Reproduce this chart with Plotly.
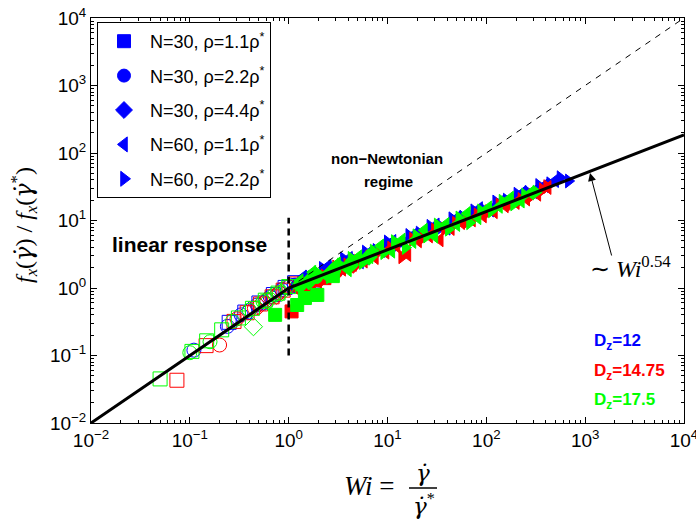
import plotly.graph_objects as go

# ---------------- data ----------------
tick_vals = [1e-2, 1e-1, 1e0, 1e1, 1e2, 1e3, 1e4]
tick_text = ["10<sup>−2</sup>", "10<sup>−1</sup>", "10<sup>0</sup>", "10<sup>1</sup>",
             "10<sup>2</sup>", "10<sup>3</sup>", "10<sup>4</sup>"]

fit_x = [0.01, 1.0, 1e4]
fit_y = [0.01, 1.0, 185.0]
lin_x = [1.0, 1e4]
lin_y = [1.0, 1e4]
vline_x = [1.0, 1.0]
vline_y = [0.1, 11.0]

# Dz = 12 (blue)
b_sq_open_x = [0.25, 0.36, 0.5, 0.7, 0.92, 1.15]
b_sq_open_y = [0.31, 0.44, 0.6, 0.8, 1.02, 1.2]
b_sq_fill_x = [1.3, 1.85, 2.6]
b_sq_fill_y = [1.12, 0.8, 1.6]
b_ci_open_x = [0.11, 0.24, 0.33, 0.48, 0.65, 0.85, 1.05]
b_ci_open_y = [0.12, 0.27, 0.4, 0.56, 0.74, 0.95, 1.1]
b_ci_fill_x = [1.2, 1.7, 2.4, 3.5]
b_ci_fill_y = [1.05, 0.82, 1.55, 2.0]
b_di_open_x = [0.4, 0.6, 0.8]
b_di_open_y = [0.46, 0.66, 0.86]
b_di_fill_x = [1.5, 2.5, 4.0, 6.0]
b_di_fill_y = [1.2, 1.65, 2.2, 2.8]
b_tl_x = [1.4, 1.9, 2.5, 3.2, 4.1, 5.3, 6.8, 8.8, 11.3, 14.5, 18.7, 24, 31, 40, 51, 66, 85,
          110, 140, 180, 235, 300, 390, 500]
b_tl_y = [1.45, 1.45, 2.1, 1.95, 2.75, 2.44, 3.5, 3.6, 4.9, 4.55, 6.2, 6.6, 8.6, 7.69,
          11.0, 11.3, 15.0, 14.3, 18.8, 20.0, 26.0, 26.7, 33.0, 39.0]
b_tr_x = [1.6, 2.2, 2.8, 3.6, 4.6, 6.0, 7.7, 10, 12.8, 16.5, 21, 27, 35, 45, 58, 75, 96, 125,
          160, 205, 265, 340, 440, 560, 680]
b_tr_y = [1.45, 1.95, 2.0, 2.7, 2.62, 3.4, 3.6, 4.8, 4.45, 6.0, 6.5, 8.2, 8.0, 10.6,
          11.2, 13.9, 14.0, 18.8, 20.0, 24.5, 26.0, 33.0, 35.0, 43.0, 38.5]

# Dz = 14.75 (red)
r_sq_open_x = [0.074, 0.146, 0.28, 0.38, 0.52, 0.68, 0.88, 1.2]
r_sq_open_y = [0.043, 0.14, 0.32, 0.43, 0.58, 0.74, 0.93, 1.15]
r_sq_fill_x = [1.07, 1.6, 2.3]
r_sq_fill_y = [0.45, 1.1, 1.4]
r_ci_open_x = [0.2, 0.3, 0.45, 0.6, 0.8, 1.0]
r_ci_open_y = [0.143, 0.35, 0.5, 0.66, 0.85, 1.05]
r_ci_fill_x = [1.3, 2.0, 3.0]
r_ci_fill_y = [1.0, 1.3, 1.7]
r_di_open_x = [0.5, 0.75]
r_di_open_y = [0.54, 0.78]
r_di_fill_x = [1.4, 2.6, 4.5]
r_di_fill_y = [1.1, 1.6, 2.2]
r_tl_x = [1.5, 2.0, 2.7, 3.5, 4.5, 5.8, 7.5, 9.6, 12.4, 16, 20.5, 26.5, 34, 44, 56, 72, 93,
          120, 155, 200, 255, 330, 420]
r_tl_y = [1.13, 1.25, 1.76, 1.9, 2.23, 2.5, 2.82, 3.4, 4.17, 3.13, 5.0, 5.9, 5.17, 7.6,
          9.32, 10.2, 11.7, 13.5, 16.5, 18.5, 20.8, 24.5, 30.8]
r_tr_x = [1.7, 2.3, 3.0, 3.9, 5.0, 6.5, 8.3, 10.8, 14, 18, 23, 30, 38, 49, 63, 81, 105, 135,
          175, 225, 290, 370, 410]
r_tr_y = [1.42, 1.5, 2.05, 2.2, 2.49, 2.9, 3.49, 3.9, 2.9, 5.3, 5.6, 7.22, 7.5, 9.08,
          9.5, 12.1, 13.5, 17.0, 17.2, 20.5, 23.5, 28.6, 31.8]

# Dz = 17.5 (green)
g_sq_open_x = [0.05, 0.105, 0.148, 0.21, 0.31, 0.43, 0.58, 0.78, 1.0]
g_sq_open_y = [0.045, 0.115, 0.165, 0.24, 0.36, 0.5, 0.66, 0.84, 1.05]
g_sq_fill_x = [0.73, 1.22, 1.46, 1.95, 2.8]
g_sq_fill_y = [0.4, 0.56, 0.71, 0.79, 1.5]
g_ci_open_x = [0.1, 0.16, 0.27, 0.4, 0.55, 0.72, 0.95]
g_ci_open_y = [0.11, 0.16, 0.32, 0.47, 0.63, 0.8, 1.02]
g_ci_fill_x = [1.3, 1.9, 2.9, 4.3]
g_ci_fill_y = [1.1, 1.45, 1.85, 2.3]
g_di_open_x = [0.44, 0.62, 0.85]
g_di_open_y = [0.267, 0.64, 0.86]
g_di_fill_x = [1.6, 2.7, 4.2, 6.5]
g_di_fill_y = [1.25, 1.7, 2.2, 2.9]
g_tl_x = [1.3, 1.75, 2.35, 3.1, 4.0, 5.1, 6.6, 8.5, 11, 14, 18, 23.5, 30, 39, 50, 64, 82, 105,
          135, 175, 225, 280]
g_tl_y = [1.28, 1.71, 1.54, 2.28, 1.86, 2.90, 2.91, 4.2, 3.51, 5.13, 4.89, 7.19, 5.85, 8.77,
          8.72, 12.7, 11.0, 15.4, 16.2, 21.5, 19.4, 25.6]
g_tr_x = [1.45, 1.95, 2.6, 3.35, 4.3, 5.6, 7.2, 9.2, 11.8, 15.2, 19.5, 25, 32, 41.5, 53, 68, 88,
          113, 145, 190, 245, 320]
g_tr_y = [1.17, 1.68, 1.46, 2.18, 2.75, 2.39, 3.52, 3.34, 4.87, 3.98, 5.93, 5.89, 8.56, 7.43,
          10.9, 9.27, 13.9, 13.9, 19.3, 17.6, 23.8, 26.3]

legend_labels = ["N=30, ρ=1.1ρ<sup>*</sup>", "N=30, ρ=2.2ρ<sup>*</sup>", "N=30, ρ=4.4ρ<sup>*</sup>",
                 "N=60, ρ=1.1ρ<sup>*</sup>", "N=60, ρ=2.2ρ<sup>*</sup>"]
legend_symbols = ["square", "circle", "diamond", "triangle-left", "triangle-right"]
dz_labels = ["D<sub>z</sub>=12", "D<sub>z</sub>=14.75", "D<sub>z</sub>=17.5"]

BLUE, RED, GREEN = "#0000ff", "#ff0000", "#00ff00"

# ---------------- layout helpers ----------------
W, H = 696, 521
L, R, T, B = 91, 12, 18, 98
PW, PH = W - L - R, H - T - B


def pxx(x):
    return (x - L) / PW


def pxy(y):
    return 1 - (y - T) / PH


fig = go.Figure()

groups = [
    (BLUE, [(b_sq_open_x, b_sq_open_y, "square-open"), (b_ci_open_x, b_ci_open_y, "circle-open"),
            (b_di_open_x, b_di_open_y, "diamond-open"), (b_sq_fill_x, b_sq_fill_y, "square"),
            (b_ci_fill_x, b_ci_fill_y, "circle"), (b_di_fill_x, b_di_fill_y, "diamond"),
            (b_tl_x, b_tl_y, "triangle-left"), (b_tr_x, b_tr_y, "triangle-right")]),
    (RED, [(r_sq_open_x, r_sq_open_y, "square-open"), (r_ci_open_x, r_ci_open_y, "circle-open"),
           (r_di_open_x, r_di_open_y, "diamond-open"), (r_sq_fill_x, r_sq_fill_y, "square"),
           (r_ci_fill_x, r_ci_fill_y, "circle"), (r_di_fill_x, r_di_fill_y, "diamond"),
           (r_tl_x, r_tl_y, "triangle-left"), (r_tr_x, r_tr_y, "triangle-right")]),
    (GREEN, [(g_sq_open_x, g_sq_open_y, "square-open"), (g_ci_open_x, g_ci_open_y, "circle-open"),
             (g_di_open_x, g_di_open_y, "diamond-open"), (g_sq_fill_x, g_sq_fill_y, "square"),
             (g_ci_fill_x, g_ci_fill_y, "circle"), (g_di_fill_x, g_di_fill_y, "diamond"),
             (g_tl_x, g_tl_y, "triangle-left"), (g_tr_x, g_tr_y, "triangle-right")]),
]

for color, series in groups:
    for xs, ys, sym in series:
        if "triangle" in sym:
            size = 12
        elif sym.endswith("open"):
            size = 14
        else:
            size = 13
        fig.add_trace(go.Scatter(
            x=xs, y=ys, mode="markers", showlegend=False, hoverinfo="skip",
            marker=dict(symbol=sym, size=size, color=color,
                        line=dict(color=color, width=1))))

# lines
fig.add_trace(go.Scatter(x=lin_x, y=lin_y, mode="lines", showlegend=False,
                         line=dict(color="black", width=1, dash="6px,6px")))
fig.add_trace(go.Scatter(x=fit_x, y=fit_y, mode="lines", showlegend=False,
                         line=dict(color="black", width=3)))
fig.add_trace(go.Scatter(x=vline_x, y=vline_y, mode="lines", showlegend=False,
                         line=dict(color="black", width=2.5, dash="7px,5px")))

# legend entries
for i, (lab, sym) in enumerate(zip(legend_labels, legend_symbols)):
    fig.add_trace(go.Scatter(x=[None], y=[None], mode="markers", name=lab,
                             legendgroup=f"g{i}",
                             marker=dict(symbol=sym, size=13, color=BLUE,
                                         line=dict(color=BLUE, width=1))))

axis_common = dict(
    type="log", tickvals=tick_vals, ticktext=tick_text, automargin=False,
    ticks="inside", ticklen=6, tickwidth=1, tickcolor="black",
    showline=True, linecolor="black", linewidth=1, mirror="allticks",
    showgrid=False, zeroline=False, ticklabeloverflow="allow",
    tickfont=dict(family="Liberation Sans, Arial", size=19, color="black"),
    minor=dict(ticks="inside", ticklen=3, tickcolor="black", dtick="D1", showgrid=False),
)

fig.update_layout(
    width=W, height=H,
    margin=dict(l=L, r=R, t=T, b=B, pad=0, autoexpand=False),
    paper_bgcolor="white", plot_bgcolor="white",
    xaxis=dict(range=[-2, 4], **axis_common),
    yaxis=dict(range=[-2, 4], **axis_common),
    showlegend=True,
    legend=dict(x=pxx(97), y=pxy(22), xanchor="left", yanchor="top",
                bordercolor="black", borderwidth=1, bgcolor="white",
                font=dict(family="Liberation Sans, Arial", size=18, color="black"),
                tracegroupgap=8, traceorder="grouped", itemwidth=42),
)


def note(text, x, y, font, xanchor="center", **kw):
    return dict(text=text, x=pxx(x), y=pxy(y), xref="paper", yref="paper",
                xanchor=xanchor, yanchor="middle", showarrow=False, font=font, **kw)


sans_b = lambda s, c="black": dict(family="Liberation Sans, Arial", size=s, color=c)
serif = lambda s: dict(family="Liberation Serif, Times New Roman", size=s, color="black")
GAM = "<span style=\"font-family:'DejaVu Serif'\"><i>γ̇</i></span>"

ann = []
ann.append(note("<b>linear response</b>", 189, 244, sans_b(21)))
ann.append(note("<b>non−Newtonian</b>", 387, 158, sans_b(15)))
ann.append(note("<b>regime</b>", 388, 181, sans_b(15)))
for lab, col, yy in zip(dz_labels, [BLUE, RED, GREEN], [342, 372, 401]):
    ann.append(note(f"<b>{lab}</b>", 592, yy, sans_b(17, col), xanchor="left"))
ann.append(note("∼ <i>Wi</i><sup>0.54</sup>", 588, 267, serif(24), xanchor="left"))
ann.append(dict(text="", x=pxx(590), y=pxy(173), xref="paper", yref="paper",
                ax=22, ay=84, axref="pixel", ayref="pixel", showarrow=True,
                arrowhead=2, arrowsize=1.6, arrowwidth=1, arrowcolor="black"))
# y axis title
ann.append(note(f"<i>f<sub>x</sub></i>({GAM}) / <i>f<sub>x</sub></i>({GAM}<sup>*</sup>)",
                24, 225, serif(24), textangle=-90))
# x axis title
ann.append(note("<i>Wi</i> =", 397, 486, serif(27), xanchor="right"))
ann.append(note(GAM, 423, 473, serif(23)))
ann.append(note(f"{GAM}<sup>*</sup>", 424, 504, serif(23)))
fig.update_layout(annotations=ann)
fig.add_shape(type="line", xref="paper", yref="paper", x0=pxx(409), x1=pxx(437),
              y0=pxy(488), y1=pxy(488), line=dict(color="black", width=1.5))

fig.write_html("out.html")
